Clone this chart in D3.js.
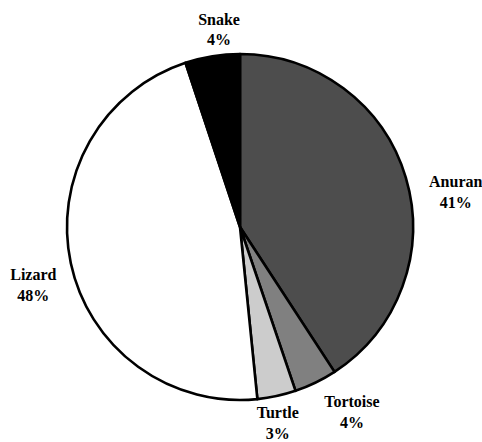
<!DOCTYPE html>
<html>
<head>
<meta charset="utf-8">
<script src="https://cdn.jsdelivr.net/npm/d3@7"></script>
<style>
  html, body { margin: 0; padding: 0; background: #fff; }
  text { font-family: "Liberation Serif", "DejaVu Serif", serif; font-weight: bold; font-size: 16px; fill: #000; }
</style>
</head>
<body>
<svg width="482" height="442"></svg>
<script>
// slice order clockwise from 12 o'clock
const names = ["Anuran", "Tortoise", "Turtle", "Lizard", "Snake"];
const shares = [40.8, 4.0, 3.6, 46.5, 5.1];
const pctLabels = ["41%", "4%", "3%", "48%", "4%"];
const fills = ["#4d4d4d", "#808080", "#cccccc", "#ffffff", "#000000"];

const cx = 240, cy = 227, R = 173;
// label placement: turn (degrees) off the slice middle, and distance from centre
const labelTurn = [6.6, -5.6, 1.2, -3, 3.2];
const labelDist = [219, 214, 197, 214, 201];

function init(){
    var svg = d3.select("svg");
    var g = svg.append("g").attr("transform", "translate(" + cx + "," + cy + ")");

    var pie = d3.pie().sort(null).value(function(d){ return d; });
    var arcs = pie(shares);
    var arc = d3.arc().innerRadius(0).outerRadius(R);

    g.selectAll("path.slice")
      .data(arcs)
      .enter().append("path")
      .attr("class", "slice")
      .attr("d", arc)
      .style("fill", function(d, i){ return fills[i]; })
      .style("stroke", "#000")
      .style("stroke-width", 2.6)
      .style("stroke-linejoin", "round");

    var lab = g.selectAll("text.lab")
      .data(arcs)
      .enter().append("text")
      .attr("class", "lab")
      .attr("text-anchor", "middle")
      .attr("transform", function(d, i){
          var a = (d.startAngle + d.endAngle) / 2 + labelTurn[i] * Math.PI / 180;
          var x = labelDist[i] * Math.sin(a);
          var y = -labelDist[i] * Math.cos(a);
          return "translate(" + x + "," + y + ")";
      });
    lab.append("tspan").attr("x", 0).attr("dy", "-0.15em")
       .text(function(d, i){ return names[i]; });
    lab.append("tspan").attr("x", 0).attr("dy", "1.3em")
       .text(function(d, i){ return pctLabels[i]; });
};

window.addEventListener("load", init);
</script>
</body>
</html>
